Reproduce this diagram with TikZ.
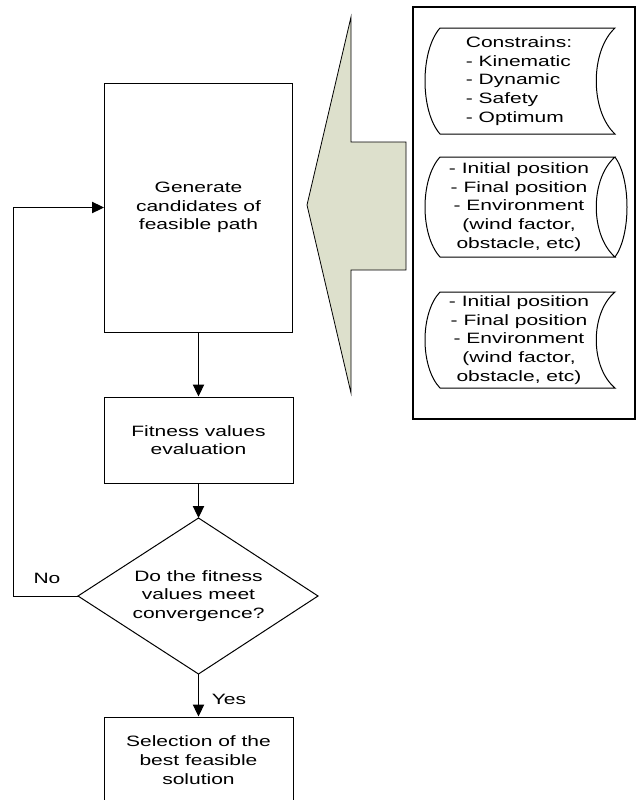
\documentclass[tikz,border=0pt]{standalone}
\usepackage{fontspec}
\setmainfont{Liberation Sans}[FakeStretch=1.4]
\usetikzlibrary{arrows.meta}
\definecolor{arrowfill}{RGB}{221,224,204}
\begin{document}
\begin{tikzpicture}[x=0.75pt,y=-0.75pt,
  line width=0.75pt,
  every node/.style={font=\fontsize{11.25}{14}\selectfont},
  box/.style={draw, align=center, inner sep=0pt},
  arr/.style={-{Triangle[length=9pt,width=8.5pt]}},
  lbl/.style={inner sep=0pt, align=center}]
\useasboundingbox (0,0) rectangle (636,800);

% main flow
\node[box, minimum width=141pt, minimum height=186.75pt] (gen) at (198.5,207.5) {Generate\\candidates of\\feasible path};
\node[box, minimum width=141.75pt, minimum height=64.5pt] (fit) at (198.5,440) {Fitness values\\evaluation};
\node[lbl] (dq) at (198.5,596) {Do the fitness\\values meet\\convergence?};
\coordinate (dT) at (198.5,518);
\coordinate (dR) at (318,596);
\coordinate (dB) at (198.5,674);
\coordinate (dL) at (78,596);
\draw (dT) -- (dR) -- (dB) -- (dL) -- cycle;
\node[box, minimum width=141.75pt, minimum height=64.5pt] (sel) at (198.5,760) {Selection of the\\best feasible\\solution};

\draw[arr] (gen.south) -- (fit.north);
\draw[arr] (fit.south) -- (dT);
\draw[arr] (dB) -- (sel.north);
\coordinate (lp) at (13,596);
\draw[arr] (dL) -- (lp) |- (gen.west);

\node[lbl] (no) at (47,578) {No};
\node[lbl] (yes) at (229,699) {Yes};

% big arrow
\draw[fill=arrowfill, line width=0.6pt] (351,17) -- (351,142) -- (406,142) -- (406,270) -- (351,270) -- (351,393) -- (307,205) -- cycle;

% right panel
\draw[line width=1.5pt] (413,7) rectangle (635,419);

\draw (440,28) -- (615,28) .. controls (590,51) and (590,111) .. (615,134) -- (440,134) .. controls (420,111) and (420,51) .. (440,28) -- cycle;
\draw (440,157) -- (615,157) .. controls (590,179) and (590,235) .. (615,257) -- (440,257) .. controls (420,235) and (420,179) .. (440,157) -- cycle;
\draw (615,157) .. controls (631,179) and (631,235) .. (615,257);
\draw (440,292) -- (615,292) .. controls (590,313) and (590,367) .. (615,388) -- (440,388) .. controls (420,367) and (420,313) .. (440,292) -- cycle;

\node[lbl, align=left] (s1) at (519,81) {Constrains:\\- Kinematic\\- Dynamic\\- Safety\\- Optimum};
\node[lbl] (s2) at (519,207) {- Initial position\\- Final position\\- Environment\\(wind factor,\\obstacle, etc)};
\node[lbl] (s3) at (519,340) {- Initial position\\- Final position\\- Environment\\(wind factor,\\obstacle, etc)};
\end{tikzpicture}
\end{document}
